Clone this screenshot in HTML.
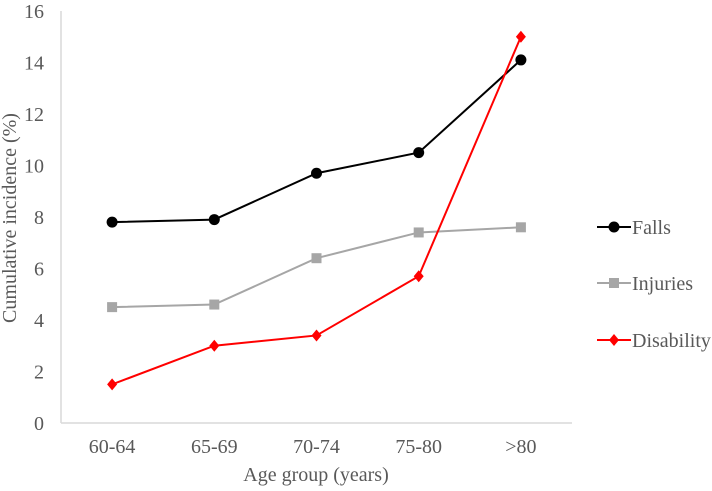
<!DOCTYPE html>
<html><head><meta charset="utf-8"><style>
html,body{margin:0;padding:0;background:#fff;}
svg text{font-family:"Liberation Serif",serif;fill:#595959;}
</style></head><body>
<svg id="chart" width="712" height="486"></svg>
<script>
const categories=["60-64","65-69","70-74","75-80",">80"];
const falls=[7.8,7.9,9.7,10.5,14.1];
const injuries=[4.5,4.6,6.4,7.4,7.6];
const disability=[1.5,3.0,3.4,5.7,15.0];
const yTicks=[0,2,4,6,8,10,12,14,16];
const ns="http://www.w3.org/2000/svg";
const svg=document.getElementById('chart');
const L=61,R=572,T=11,B=423;
const x=i=>L+(R-L)/categories.length*(i+0.5);
const y=v=>B-(B-T)*v/16;
function mk(t,a,p){const e=document.createElementNS(ns,t);for(const k in a)e.setAttribute(k,a[k]);(p||svg).appendChild(e);return e;}
let ax=mk('line',{x1:L,y1:B,x2:R,y2:B,stroke:'#d9d9d9','stroke-width':1.5});


let ay=mk('line',{x1:L,y1:T,x2:L,y2:B,stroke:'#d9d9d9','stroke-width':1.5});


yTicks.forEach(v=>{const t=mk('text',{x:44,y:y(v)+7,'text-anchor':'end','font-size':20});t.textContent=v;

});
categories.forEach((c,i)=>{const t=mk('text',{x:x(i),y:453,'text-anchor':'middle','font-size':20});t.textContent=c;

});
let xt=mk('text',{x:316,y:481,'text-anchor':'middle','font-size':20});xt.textContent='Age group (years)';


let yt=mk('text',{x:0,y:0,'text-anchor':'middle','font-size':20,transform:'translate(16,218) rotate(-90)'});yt.textContent='Cumulative incidence (%)';


function marker(type,cx,cy,color,g){
 if(type==='circle')return mk('circle',{cx,cy,r:5.5,fill:color},g);
 if(type==='square')return mk('rect',{x:cx-5,y:cy-5,width:10,height:10,fill:color},g);
 return mk('polygon',{points:`${cx},${cy-6} ${cx+5},${cy} ${cx},${cy+6} ${cx-5},${cy}`,fill:color},g);
}
const series=[
 {name:'Falls',data:falls,color:'#000',m:'circle',ly:227},
 {name:'Injuries',data:injuries,color:'#a6a6a6',m:'square',ly:283},
 {name:'Disability',data:disability,color:'#ff0000',m:'diamond',ly:340}];
series.forEach(s=>{
 const g=mk('g',{});
 
 
 mk('polyline',{points:s.data.map((v,i)=>x(i)+','+y(v)).join(' '),fill:'none',stroke:s.color,'stroke-width':2},g);
 s.data.forEach((v,i)=>{const p=marker(s.m,x(i),y(v),s.color,g);
 
 });
 const lg=mk('g',{});
 
 
 mk('line',{x1:597,y1:s.ly,x2:631,y2:s.ly,stroke:s.color,'stroke-width':2},lg);
 marker(s.m,614,s.ly,s.color,lg);
 const t=mk('text',{x:632,y:s.ly+7,'font-size':20},lg);t.textContent=s.name;
});
</script>
</body></html>
